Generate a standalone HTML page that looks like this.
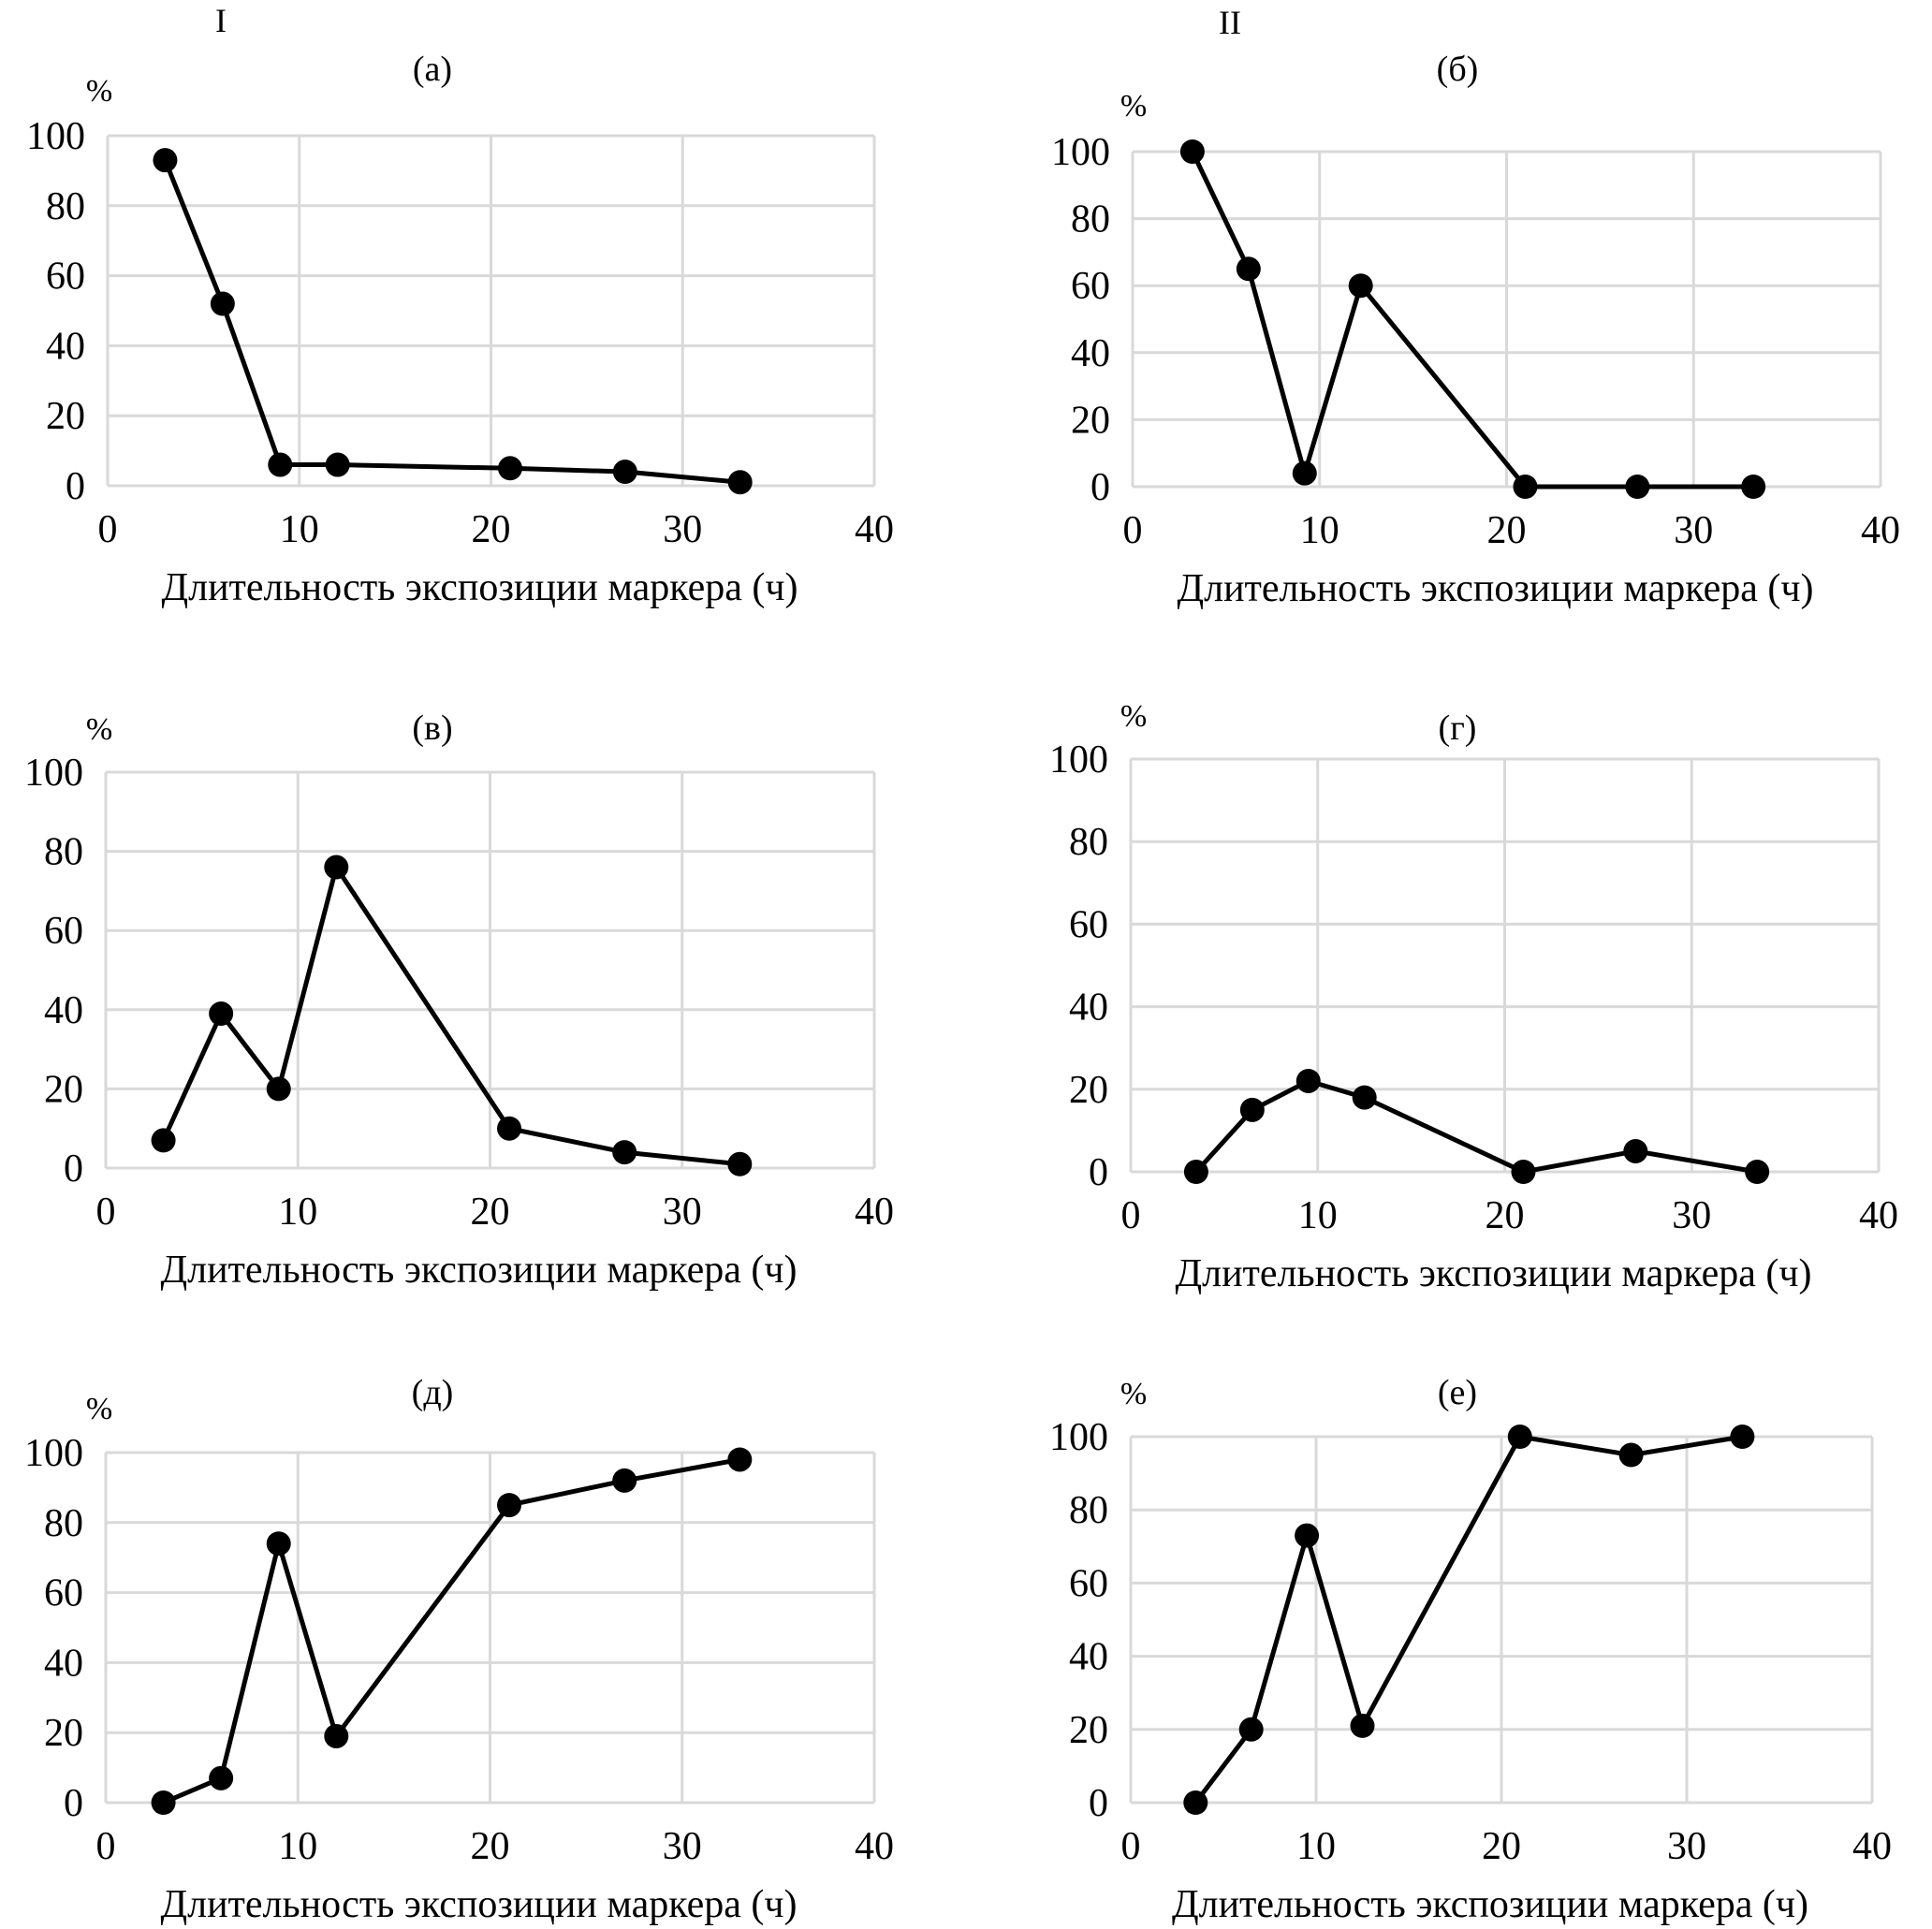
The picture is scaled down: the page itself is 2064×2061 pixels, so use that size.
<!DOCTYPE html>
<html><head><meta charset="utf-8">
<style>
html,body{margin:0;padding:0;background:#fff;}
svg{display:block;}
text{font-family:"Liberation Serif","DejaVu Serif",serif;fill:#000;}
</style></head>
<body>
<svg id="fig" width="2064" height="2061" viewBox="0 0 2064 2061" xmlns="http://www.w3.org/2000/svg">
<text x="236" y="34" font-size="36" text-anchor="middle">I</text>
<text x="1314" y="36" font-size="36" text-anchor="middle">II</text>
</svg>
<script>
// Data arrays
const xTicks = [0, 10, 20, 30, 40];
const yTicks = [0, 20, 40, 60, 80, 100];
const xA = [3, 6, 9, 12, 21, 27, 33];
const yA = [93, 52, 6, 6, 5, 4, 1];
const xB = [3.2, 6.2, 9.2, 12.2, 21, 27, 33.2];
const yB = [100, 65, 4, 60, 0, 0, 0];
const xV = [3, 6, 9, 12, 21, 27, 33];
const yV = [7, 39, 20, 76, 10, 4, 1];
const xG = [3.5, 6.5, 9.5, 12.5, 21, 27, 33.5];
const yG = [0, 15, 22, 18, 0, 5, 0];
const xD = [3, 6, 9, 12, 21, 27, 33];
const yD = [0, 7, 74, 19, 85, 92, 98];
const xE = [3.5, 6.5, 9.5, 12.5, 21, 27, 33];
const yE = [0, 20, 73, 21, 100, 95, 100];
const panelTitles = ["(а)", "(б)", "(в)", "(г)", "(д)", "(е)"];
const axisTitle = "Длительность экспозиции маркера (ч)";

const NS = "http://www.w3.org/2000/svg";
const svg = document.getElementById("fig");
function mk(tag, attrs, parent){const e=document.createElementNS(NS,tag);for(const k in attrs)e.setAttribute(k,attrs[k]);(parent||svg).appendChild(e);return e;}

const panels = [
 {x0:115,x1:934,yT:145,yB:519,title:[462,86],pct:[106,108],xs:xA,ys:yA},
 {x0:1210,x1:2009,yT:162,yB:520,title:[1557,86],pct:[1211,124],xs:xB,ys:yB},
 {x0:113,x1:934,yT:825,yB:1248,title:[462,790],pct:[106,790],xs:xV,ys:yV},
 {x0:1208,x1:2007,yT:811,yB:1252,title:[1557,790],pct:[1211,776],xs:xG,ys:yG},
 {x0:113,x1:934,yT:1552,yB:1926,title:[462,1500],pct:[106,1516],xs:xD,ys:yD},
 {x0:1208,x1:2000,yT:1535,yB:1926,title:[1557,1500],pct:[1211,1500],xs:xE,ys:yE}
];

panels.forEach((p,i)=>{
  const g = mk("g",{});
  
  
  const sx = v => p.x0 + (v-0)/(40-0)*(p.x1-p.x0);
  const sy = v => p.yB - v/100*(p.yB-p.yT);
  yTicks.forEach(t=>{
    const l = mk("line",{x1:p.x0,x2:p.x1,y1:sy(t),y2:sy(t),stroke:"#d9d9d9","stroke-width":3},g);
    
    
    const tx = mk("text",{x:p.x0-24,y:sy(t)+14,"font-size":42,"text-anchor":"end"},g);
    tx.textContent = t;
    
    
  });
  xTicks.forEach(t=>{
    const l = mk("line",{x1:sx(t),x2:sx(t),y1:p.yT,y2:p.yB,stroke:"#d9d9d9","stroke-width":3},g);
    
    
    const tx = mk("text",{x:sx(t),y:p.yB+60,"font-size":42,"text-anchor":"middle"},g);
    tx.textContent = t;
    
    
  });
  const at = mk("text",{x:(p.x0+p.x1)/2-12,y:p.yB+122,"font-size":42,"text-anchor":"middle"},g);
  at.textContent = axisTitle;
  
  
  const tt = mk("text",{x:p.title[0],y:p.title[1],"font-size":38,"text-anchor":"middle"},g);
  tt.textContent = panelTitles[i];
  
  
  const pc = mk("text",{x:p.pct[0],y:p.pct[1],"font-size":34,"text-anchor":"middle"},g);
  pc.textContent = "%";
  
  
  const pts = p.xs.map((x,k)=>sx(x)+","+sy(p.ys[k])).join(" ");
  const line = mk("polyline",{points:pts,fill:"none",stroke:"#000","stroke-width":5,"stroke-linejoin":"round"},g);
  
  
  p.xs.forEach((x,k)=>{
    const c = mk("circle",{cx:sx(x),cy:sy(p.ys[k]),r:13,fill:"#000"},g);
    
    
  });
});
</script>
</body></html>
